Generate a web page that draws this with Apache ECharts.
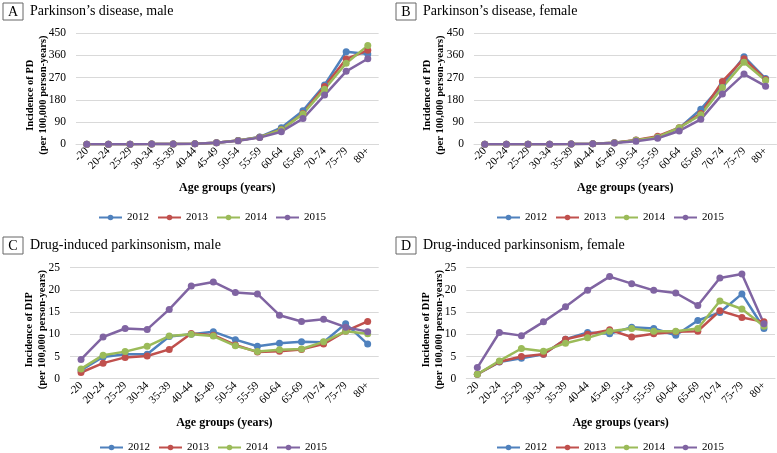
<!DOCTYPE html>
<html><head><meta charset="utf-8">
<script src="https://cdn.jsdelivr.net/npm/echarts@6/dist/echarts.min.js"></script>
<style>html,body{margin:0;padding:0;background:#fff}#c{width:777px;height:453px}</style>
</head><body><div id="c"></div>
<script>
const ageGroups = ['-20','20-24','25-29','30-34','35-39','40-44','45-49','50-54','55-59','60-64','65-69','70-74','75-79','80+'];
const years = ['2012','2013','2014','2015'];
const colors = ['#4F81BD','#C0504D','#9BBB59','#8064A2'];

// Panel A: Parkinson's disease, male
const pdMale2012 = [0.3,0.4,0.5,0.8,1.2,2.5,6,15,30,67,136,240,374,365];
const pdMale2013 = [0.3,0.4,0.5,0.8,1.2,2.5,6,15,29,60,125,234,345,380];
const pdMale2014 = [0.3,0.4,0.5,0.8,1.2,2.5,6,15,29,59,123,223,328,399];
const pdMale2015 = [0.3,0.4,0.5,0.8,1.2,2.5,6,14,27,51,104,199,295,346];
// Panel B: Parkinson's disease, female
const pdFemale2012 = [0.2,0.3,0.4,0.6,1,2.5,6,16,29,65,142,240,354,266];
const pdFemale2013 = [0.2,0.3,0.4,0.6,1,2.5,6,17,33,67,125,254,346,262];
const pdFemale2014 = [0.2,0.3,0.4,0.6,1,2.5,6,16,29,67,119,230,332,258];
const pdFemale2015 = [0.2,0.3,0.4,0.6,1,2.5,5,12,24,54,101,203,284,235];
// Panel C: Drug-induced parkinsonism, male
const dipMale2012 = [1.9,4.9,5.5,5.5,9.5,10.0,10.6,8.8,7.3,8.0,8.3,8.2,12.4,7.8];
const dipMale2013 = [1.4,3.5,4.8,5.1,6.6,10.2,9.8,7.6,6.0,6.2,6.6,7.8,10.7,12.9];
const dipMale2014 = [2.2,5.3,6.1,7.3,9.6,10.0,9.6,7.4,6.1,6.5,6.7,8.3,10.7,10.1];
const dipMale2015 = [4.35,9.4,11.3,11.1,15.6,20.9,21.8,19.4,19.1,14.3,12.9,13.4,11.6,10.6];
// Panel D: Drug-induced parkinsonism, female
const dipFemale2012 = [1.0,3.75,4.6,5.5,8.9,10.4,10.1,11.6,11.3,9.8,13.1,14.9,19.1,11.3];
const dipFemale2013 = [1.0,3.8,5.0,5.5,8.9,10.0,11.0,9.4,10.1,10.6,10.7,15.3,13.8,12.8];
const dipFemale2014 = [1.0,4.0,6.8,6.2,8.0,9.2,10.7,11.3,10.7,10.7,11.3,17.5,15.7,11.8];
const dipFemale2015 = [2.5,10.4,9.7,12.8,16.2,19.9,23.0,21.4,19.9,19.3,16.5,22.7,23.6,12.4];

const panels = [
  {letter:'A', title:'Parkinson\u2019s disease, male', yname:'Incidence of PD\n(per 100,000 person-years)', max:450, interval:90,
   data:[pdMale2012,pdMale2013,pdMale2014,pdMale2015], grid:{left:76,top:33,width:302.6,height:111.3}, tx:3, ty:3, lx:93, ly:207, ng:26},
  {letter:'B', title:'Parkinson\u2019s disease, female', yname:'Incidence of PD\n(per 100,000 person-years)', max:450, interval:90,
   data:[pdFemale2012,pdFemale2013,pdFemale2014,pdFemale2015], grid:{left:474,top:33,width:302.4,height:111.3}, tx:396, ty:3, lx:491, ly:207, ng:27},
  {letter:'C', title:'Drug-induced parkinsonism, male', yname:'Incidence of DIP\n(per 100,000 person-years)', max:25, interval:5,
   data:[dipMale2012,dipMale2013,dipMale2014,dipMale2015], grid:{left:70,top:267.7,width:308.7,height:111}, tx:3, ty:237, lx:94, ly:437, ng:21},
  {letter:'D', title:'Drug-induced parkinsonism, female', yname:'Incidence of DIP\n(per 100,000 person-years)', max:25, interval:5,
   data:[dipFemale2012,dipFemale2013,dipFemale2014,dipFemale2015], grid:{left:466.3,top:267.7,width:308.7,height:111}, tx:396, ty:237, lx:491, ly:437, ng:21}
];

const serif = '"Liberation Serif","Times New Roman",serif';
const option = {backgroundColor:'#fff', animation:false, title:[], grid:[], xAxis:[], yAxis:[], legend:[], series:[]};
panels.forEach((p,i)=>{
  option.title.push({left:p.tx, top:p.ty, padding:0, text:'{b|'+p.letter+'}{t|'+p.title+'}',
    textStyle:{fontWeight:'normal', rich:{
      b:{fontFamily:serif,fontSize:14,fontWeight:'normal',color:'#000',borderColor:'#666',borderWidth:1,padding:[2,5,1,5],width:10,align:'center'},
      t:{fontFamily:serif,fontSize:14,fontWeight:'normal',color:'#000',padding:[0,0,0,7]}}}});
  option.grid.push(Object.assign({containLabel:false}, p.grid));
  option.xAxis.push({type:'category', gridIndex:i, data:ageGroups, boundaryGap:true,
    name:'Age groups (years)', nameLocation:'middle', nameGap:38, nameMoveOverlap:false,
    nameTextStyle:{fontFamily:serif,fontSize:12,fontWeight:'bold',color:'#000'},
    axisLine:{lineStyle:{color:'#d9d9d9'}}, axisTick:{show:false},
    axisLabel:{rotate:45, fontFamily:serif, fontSize:11, color:'#000', margin:5, interval:0}});
  option.yAxis.push({type:'value', gridIndex:i, min:0, max:p.max, interval:p.interval,
    name:p.yname, nameLocation:'middle', nameRotate:90, nameGap:p.ng, nameMoveOverlap:false,
    nameTextStyle:{fontFamily:serif,fontSize:10.5,fontWeight:'bold',color:'#000',lineHeight:13,padding:[0,13,0,0]},
    axisLine:{show:false}, axisTick:{show:false},
    splitLine:{lineStyle:{color:'#d9d9d9'}},
    axisLabel:{fontFamily:serif,fontSize:11.5,color:'#000',margin:10}});
  option.legend.push({left:p.lx, top:p.ly, data:years, itemWidth:23, itemHeight:7, itemGap:8,
    textStyle:{fontFamily:serif,fontSize:11,color:'#000'}});
  years.forEach((y,k)=>{
    option.series.push({type:'line', name:y, xAxisIndex:i, yAxisIndex:i, data:p.data[k],
      color:colors[k], symbol:'circle', symbolSize:7, lineStyle:{width:2.5,color:colors[k]},
      itemStyle:{color:colors[k]}});
  });
});
const chart = echarts.init(document.getElementById('c'), null, {renderer:'canvas'});
chart.setOption(option);
</script></body></html>
